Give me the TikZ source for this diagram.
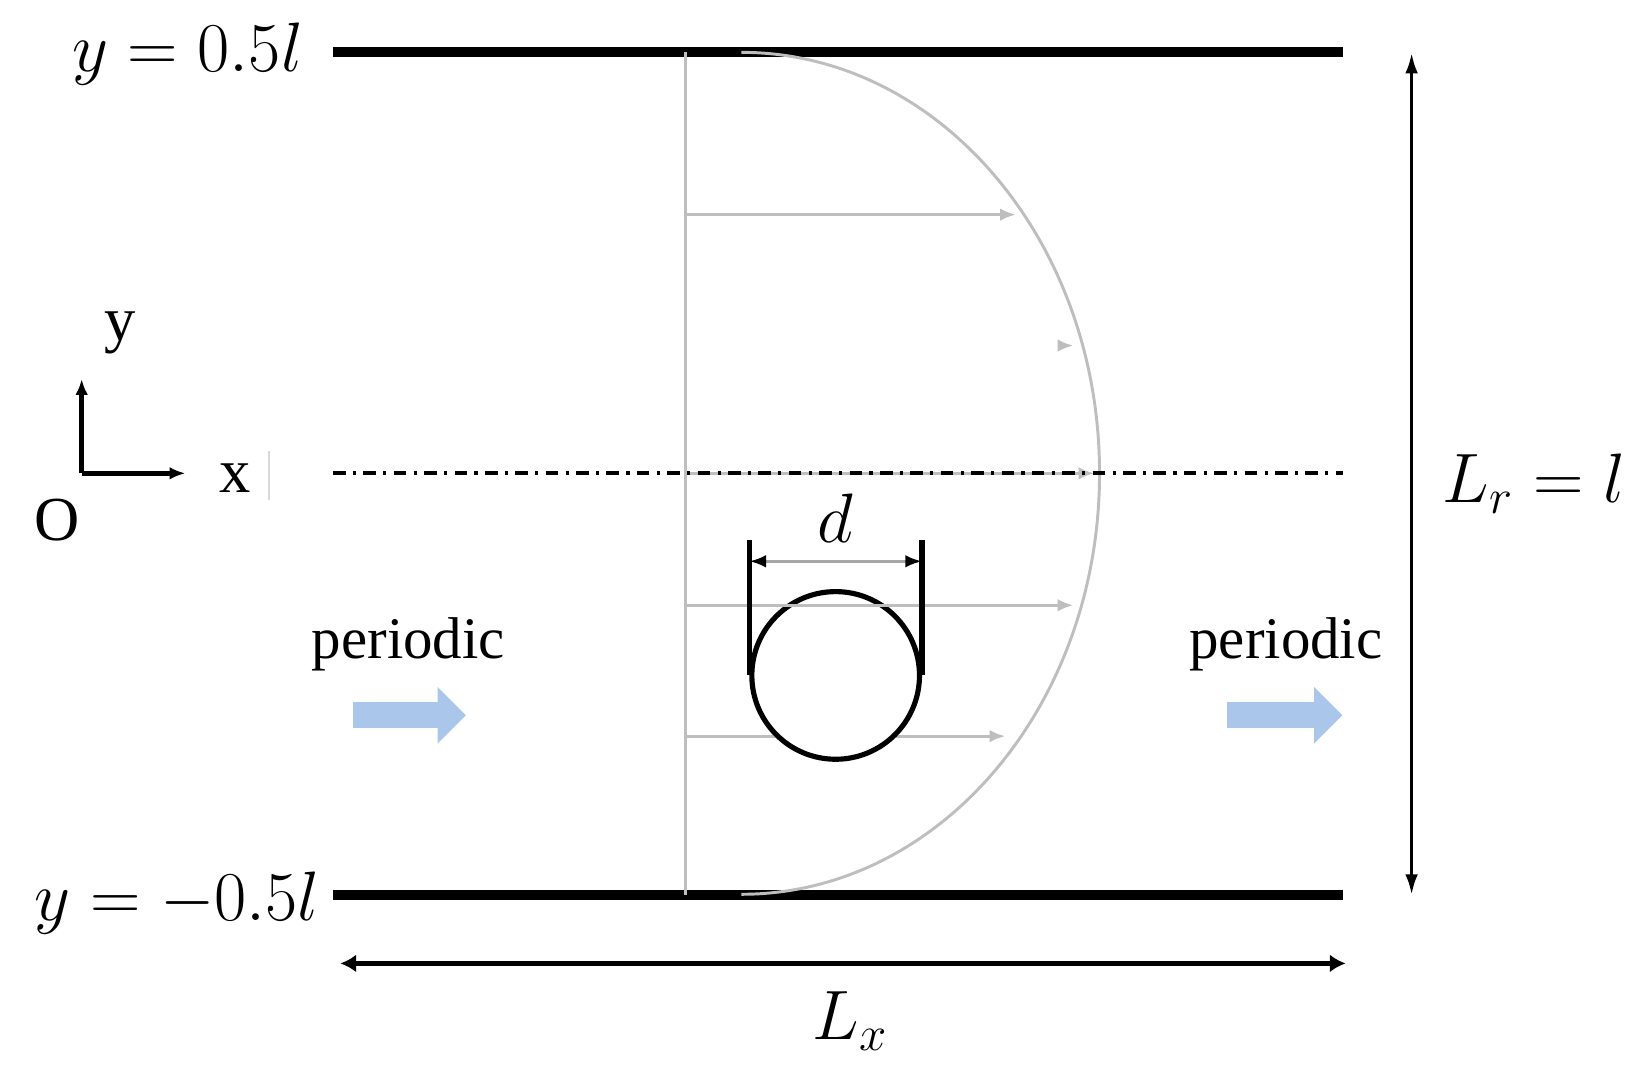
\RequirePackage{fix-cm}
\documentclass[tikz,border=0pt]{standalone}
\usepackage{fontspec}
\newfontfamily\tnr{Liberation Serif}
\usetikzlibrary{arrows.meta}
\definecolor{profgray}{RGB}{190,190,190}
\definecolor{flowblue}{RGB}{170,198,234}

\begin{document}
\begin{tikzpicture}[x=0.01cm, y=0.01cm,
    wall/.style={line width=2.7pt},
    prof/.style={profgray, line width=0.8pt},
    profarrow/.style={prof, -{Latex[length=0.15cm, width=0.12cm]}},
    flow/.style={flowblue, line width=0.25cm, -{Triangle[length=0.27cm, width=0.52cm]}},
    mathlbl/.style={font=\fontsize{19}{23}\selectfont, inner sep=0pt, text=black},
    txtlbl/.style={font=\tnr\fontsize{16}{19}\selectfont, inner sep=0pt},
    axlbl/.style={font=\tnr\fontsize{17}{20}\selectfont, inner sep=0pt}]
    \useasboundingbox (0,0) rectangle (1568,-1031);

    \coordinate (TL) at (318,-50);
    \coordinate (TR) at (1282,-50);
    \coordinate (BL) at (318,-855);
    \coordinate (BR) at (1282,-855);
    \coordinate (PT) at (655,-50);
    \coordinate (PB) at (655,-855);

    \draw[wall] (TL) -- (TR);
    \draw[wall] (BL) -- (BR);
    \node[mathlbl, anchor=east] (ytop) at (290,-52) {$y = 0.5l$};
    \node[mathlbl, anchor=east] (ybot) at (306,-862) {$y = -0.5l$};

    \draw[prof] (PT) -- (PB);
    \draw[prof] (708,-50) arc[start angle=90, end angle=-90, x radius=342, y radius=402];
    \foreach \yy/\xx in {205/970, 452/1045, 703/960}
        \draw[profarrow] (655,-\yy) -- (\xx,-\yy);
    \draw[profarrow] (1012,-330) -- (1025,-330);

    \node[circle, draw, fill=white, line width=1.4pt, minimum size=1.6cm, inner sep=0pt] (cyl) at (798,-645) {};
    \draw[profarrow] (655,-578) -- (1025,-578);
    \draw[line width=1.4pt] (cyl.west) -- ++(0,129) coordinate (dL);
    \draw[line width=1.4pt] (cyl.east) -- ++(0,129) coordinate (dR);
    \draw[gray!70, line width=0.8pt, {Latex[black, length=0.16cm, width=0.12cm]}-{Latex[black, length=0.16cm, width=0.12cm]}]
        ([yshift=-0.2cm]dL) -- ([yshift=-0.2cm]dR) node[midway, above=0.17cm, mathlbl] (dlbl) {$d$};

    \draw[line width=1pt, dash pattern=on 0.12cm off 0.07cm on 0.03cm off 0.07cm] (318,-452) -- (1282,-452);

    \coordinate (O) at (78,-452);
    \draw[line width=1.2pt, -{Latex[length=0.15cm, width=0.12cm]}] (O) -- (78,-362);
    \draw[line width=1.2pt, -{Latex[length=0.15cm, width=0.12cm]}] (O) -- (177,-452);
    \node[axlbl] (ylbl) at (115,-318) {y};
    \node[axlbl] (xlbl) at (225,-457) {x};
    \node[axlbl] (olbl) at (55,-497) {O};
    \draw[gray!30, line width=0.5pt] (257,-431) -- (257,-477);

    \node[txtlbl] (perL) at (390,-615) {periodic};
    \node[txtlbl] (perR) at (1228,-615) {periodic};
    \draw[flow] (337,-683) -- (445,-683);
    \draw[flow] (1172,-683) -- (1282,-683);

    \draw[line width=1pt, {Latex[length=0.2cm, width=0.12cm]}-{Latex[length=0.2cm, width=0.12cm]}] (1348,-50) -- (1348,-855);
    \node[mathlbl] (lr) at (1465,-462) {$L_r = l$};
    \draw[line width=1.4pt, {Latex[length=0.15cm, width=0.17cm]}-{Latex[length=0.15cm, width=0.17cm]}] (325,-920) -- (1285,-920);
    \node[mathlbl] (lx) at (812,-975) {$L_x$};
\end{tikzpicture}
\end{document}
